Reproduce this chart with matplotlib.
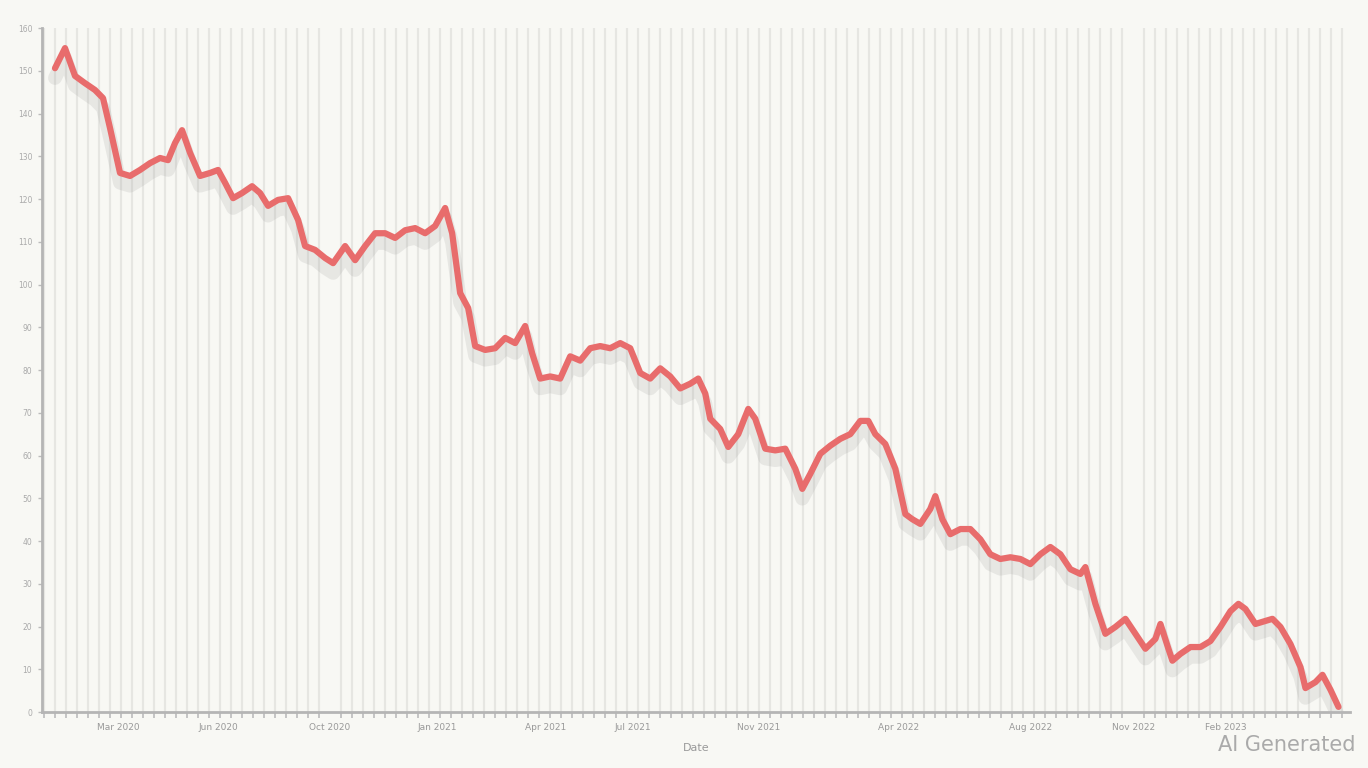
import numpy as np
import matplotlib
matplotlib.use('Agg')
import matplotlib.pyplot as plt
import matplotlib.patheffects as pe
from matplotlib.ticker import MultipleLocator

# day index since start and price
days = [0, 10, 20, 30, 40, 48, 55, 65, 75, 85, 95, 105, 113, 120, 127, 135, 145, 155, 163,
        170, 178, 187, 197, 205, 213, 223, 233, 243, 250, 260, 270, 278, 290, 300, 310, 320,
        330, 340, 350, 360, 370, 380, 390, 397, 405, 413, 420, 430, 440, 450, 460, 470, 477,
        485, 495, 505, 515, 525, 535, 545, 555, 565, 575, 585, 595, 605, 615, 625, 635, 643,
        650, 655, 665, 673, 683, 693, 700, 710, 720, 730, 740, 747, 755, 765, 775, 785, 795,
        805, 813, 820, 830, 840, 850, 857, 865, 875, 880, 887, 895, 905, 915, 925, 935, 945,
        955, 965, 975, 985, 995, 1005, 1015, 1025, 1030, 1040, 1050, 1060, 1070, 1080, 1090,
        1100, 1105, 1113, 1117, 1125, 1135, 1145, 1155, 1165, 1175, 1183, 1190, 1200, 1210,
        1217, 1225, 1235, 1245, 1250, 1260, 1267, 1275, 1283]
price = [150.6, 155.3, 148.8, 147.1, 145.5, 143.6, 136.6, 126.1, 125.4, 126.8, 128.4,
         129.6, 129.1, 133.1, 136.1, 130.8, 125.4, 126.1, 126.8, 123.8, 120.2, 121.4, 123.0,
         121.4, 118.4, 119.8, 120.2, 115.1, 109.0, 108.1, 106.2, 105.0, 109.0, 105.7, 109.0,
         112.0, 112.0, 110.9, 112.7, 113.2, 112.0, 113.7, 117.9, 112.0, 98.0, 94.5, 85.6,
         84.7, 85.1, 87.5, 86.3, 90.3, 83.9, 78.0, 78.5, 78.0, 83.2, 82.2, 85.1, 85.6, 85.1,
         86.3, 85.1, 79.3, 78.0, 80.4, 78.5, 75.7, 76.8, 78.0, 74.5, 68.6, 66.2, 62.0, 65.0,
         70.9, 68.6, 61.6, 61.2, 61.6, 56.9, 52.2, 55.7, 60.4, 62.3, 63.9, 65.0, 68.1, 68.1,
         65.0, 62.7, 56.9, 46.3, 45.1, 44.0, 47.5, 50.5, 45.1, 41.6, 42.8, 42.8, 40.4, 36.9,
         35.8, 36.2, 35.8, 34.6, 36.9, 38.6, 36.9, 33.4, 32.3, 33.9, 25.3, 18.3, 19.9, 21.8,
         18.3, 14.8, 17.1, 20.6, 14.8, 12.0, 13.6, 15.2, 15.2, 16.6, 19.9, 23.6, 25.3, 24.1,
         20.6, 21.3, 21.8, 19.9, 15.9, 10.5, 5.6, 7.0, 8.7, 5.2, 1.2]

tick_days = [63, 163, 275, 382, 490, 578, 703, 843, 975, 1078, 1170]
tick_labels = ['Mar 2020', 'Jun 2020', 'Oct 2020', 'Jan 2021', 'Apr 2021', 'Jul 2021',
               'Nov 2021', 'Apr 2022', 'Aug 2022', 'Nov 2022', 'Feb 2023']

bg = '#f8f8f4'
fig = plt.figure(figsize=(13.68, 7.68), dpi=100, facecolor=bg)
ax = fig.add_axes([0.0307, 0.0729, 0.9565, 0.8906])
ax.set_facecolor(bg)

ax.plot(days, price, color='#e86c6c', lw=4.5, solid_joinstyle='round', solid_capstyle='round',
        path_effects=[pe.SimpleLineShadow(offset=(0, -7), shadow_color='#888888', alpha=0.15,
                                          linewidth=10), pe.Normal()])

ax.set_xlim(-13, 1295)
ax.set_ylim(0, 160)

# dense vertical grid
ax.xaxis.set_minor_locator(MultipleLocator(11))
ax.grid(which='minor', axis='x', color='#e6e6e2', lw=1.6)
ax.set_axisbelow(True)

ax.set_xticks(tick_days)
ax.set_xticklabels(tick_labels, fontsize=6.5, color='#999999')
ax.tick_params(axis='x', which='major', length=0, pad=8)
ax.tick_params(axis='x', which='minor', length=4, width=1.3, color='#c0c0c0')

ax.yaxis.set_major_locator(MultipleLocator(10))
ax.tick_params(axis='y', length=3, width=1, color='#bbbbbb', labelsize=5.5, labelcolor='#aaaaaa', pad=4)

for s in ['top', 'right']:
    ax.spines[s].set_visible(False)
for s in ['left', 'bottom']:
    ax.spines[s].set_color('#b5b5b5')
    ax.spines[s].set_linewidth(2)

ax.set_xlabel('Date', fontsize=8, color='#999999', labelpad=8)

fig.text(0.991, 0.03, 'AI Generated', ha='right', va='center', fontsize=15, color='#aaaaaa')

plt.savefig('out.png', dpi=100, facecolor=bg)
